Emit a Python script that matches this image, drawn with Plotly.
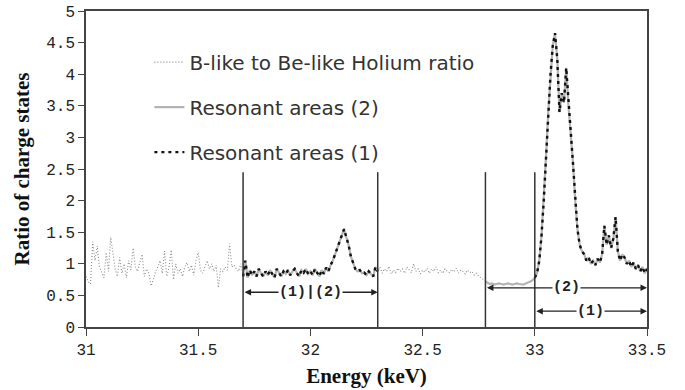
import plotly.graph_objects as go

# ---- data ----
energy_start = 31.00
energy_step = 0.01
ratio = [
    0.80, 0.72, 0.68, 1.35, 1.05, 1.28, 0.95, 0.85, 0.78, 1.18,
    0.88, 1.42, 1.15, 0.92, 0.80, 1.10, 0.85, 1.00, 0.78, 1.05,
    0.90, 1.25, 0.95, 0.88, 1.02, 1.15, 0.80, 0.92, 0.85, 0.65,
    0.75, 0.88, 0.95, 1.05, 0.85, 1.20, 0.80, 0.95, 1.22, 0.75,
    1.00, 0.85, 0.92, 0.80, 0.95, 1.02, 0.88, 0.98, 0.82, 1.05,
    1.18, 0.90, 0.85, 0.96, 1.05, 0.92, 1.00, 0.88, 0.98, 0.62,
    0.92, 0.88, 0.95, 0.90, 1.32, 0.95, 0.98, 0.92, 0.88, 1.00,
    0.80, 1.05, 0.78, 0.90, 0.82, 0.88, 0.80, 0.92, 0.85, 0.80,
    0.88, 0.82, 0.90, 0.85, 0.78, 0.92, 0.86, 0.80, 0.88, 0.84,
    0.90, 0.82, 0.88, 0.92, 0.85, 0.80, 0.90, 0.86, 0.92, 0.84,
    0.88, 0.82, 0.92, 0.86, 0.80, 0.90, 0.84, 0.94, 0.88, 0.98,
    1.05, 1.15, 1.25, 1.38, 1.45, 1.55, 1.42, 1.30, 1.12, 1.00,
    0.92, 0.88, 0.90, 0.85, 0.86, 0.82, 0.88, 0.84, 0.80, 0.95,
    0.88, 0.95, 0.85, 0.92, 0.88, 0.96, 0.84, 0.90, 0.86, 0.93,
    0.88, 0.92, 0.85, 0.95, 0.90, 0.86, 1.00, 0.88, 0.92, 0.84,
    0.90, 0.87, 0.93, 0.85, 0.92, 0.88, 0.95, 0.86, 0.90, 0.85,
    0.92, 0.88, 0.86, 0.91, 0.87, 0.93, 0.85, 0.90, 0.88, 0.84,
    0.90, 0.86, 0.88, 0.82, 0.85, 0.80, 0.78, 0.75, 0.72, 0.70,
    0.68, 0.69, 0.67, 0.68, 0.69, 0.68, 0.67, 0.68, 0.69, 0.68,
    0.67, 0.68, 0.69, 0.68, 0.68, 0.67, 0.69, 0.70, 0.72, 0.74,
    0.78, 0.85, 1.05, 1.45, 2.00, 2.70, 3.40, 4.00, 4.45, 4.65,
    4.25, 3.40, 3.70, 3.55, 4.10, 3.50, 3.10, 2.60, 2.00, 1.55,
    1.30, 1.20, 1.15, 1.05, 1.10, 1.00, 1.05, 0.98, 1.08, 1.02,
    1.15, 1.60, 1.30, 1.45, 1.25, 1.40, 1.74, 1.20, 1.05, 1.15,
    1.10, 1.00, 1.05, 0.95, 1.02, 0.92, 0.98, 0.88, 0.95, 0.85,
    0.92,
]
energy = [round(energy_start + i * energy_step, 2) for i in range(len(ratio))]

areas_1 = [(31.70, 32.30), (33.00, 33.50)]
areas_2 = [(31.70, 32.30), (32.78, 33.50)]
boundaries = [31.70, 32.30, 32.78, 33.00]
boundary_top = 2.45

def in_areas(e, areas):
    return any(a - 1e-9 <= e <= b + 1e-9 for a, b in areas)

res2 = [r if in_areas(e, areas_2) else None for e, r in zip(energy, ratio)]
res1 = [r if in_areas(e, areas_1) else None for e, r in zip(energy, ratio)]

fig = go.Figure()
fig.add_trace(go.Scatter(x=energy, y=ratio, mode="lines",
                         name="B-like to Be-like Holium ratio",
                         legendgroup="a",
                         line=dict(color="#8c8c8c", width=1.1, dash="1px,2px")))
fig.add_trace(go.Scatter(x=energy, y=res2, mode="lines",
                         name="Resonant areas (2)", legendgroup="b",
                         connectgaps=False,
                         line=dict(color="#b4b4b4", width=2.2)))
fig.add_trace(go.Scatter(x=energy, y=res1, mode="lines",
                         name="Resonant areas (1)", legendgroup="c",
                         connectgaps=False,
                         line=dict(color="#111111", width=2.4, dash="3px,4px")))

for b in boundaries:
    fig.add_shape(type="line", x0=b, x1=b, y0=0, y1=boundary_top,
                  line=dict(color="#333333", width=1.5), layer="above")

mono = dict(family="Liberation Mono", size=15, color="#222222")
arrows = [
    (areas_1[0][0], areas_1[0][1], 0.55, "(1)|(2)"),
    (areas_2[1][0], areas_2[1][1], 0.62, "(2)"),
    (areas_1[1][0], areas_1[1][1], 0.25, "(1)"),
]
for x0, x1, yv, label in arrows:
    fig.add_annotation(x=x1, y=yv, ax=x0, ay=yv, axref="x", ayref="y",
                       xref="x", yref="y", text="", showarrow=True,
                       arrowhead=2, arrowside="end+start", arrowsize=1,
                       arrowwidth=1.3, arrowcolor="#222222")
    fig.add_annotation(x=(x0 + x1) / 2, y=yv, text="<b>" + label + "</b>",
                       showarrow=False, bgcolor="white", font=mono,
                       borderpad=0)

fig.update_layout(
    width=685, height=390,
    margin=dict(l=86, r=38, t=11, b=63),
    paper_bgcolor="white", plot_bgcolor="white",
    showlegend=True,
    legend=dict(x=0.113, y=0.90, xanchor="left", yanchor="top",
                bgcolor="rgba(0,0,0,0)", tracegroupgap=16,
                itemwidth=30,
                font=dict(family="DejaVu Sans", size=20, color="#333333")),
    xaxis=dict(range=[31, 33.5], tickvals=[31, 31.5, 32, 32.5, 33, 33.5],
               ticktext=["31", "31.5", "32", "32.5", "33", "33.5"],
               showgrid=False, zeroline=False, showline=True, mirror=True,
               linecolor="#444444", linewidth=1.5, ticks="outside",
               ticklen=7, tickcolor="#444444", automargin=False,
               tickfont=dict(family="Liberation Mono", size=16, color="#222222"),
               title=dict(text="<b>Energy (keV)</b>", standoff=9,
                          font=dict(family="Liberation Serif", size=21, color="#111111"))),
    yaxis=dict(range=[0, 5], tickvals=[0, 0.5, 1, 1.5, 2, 2.5, 3, 3.5, 4, 4.5, 5],
               ticktext=["0", "0.5", "1", "1.5", "2", "2.5", "3", "3.5", "4", "4.5", "5"],
               showgrid=False, zeroline=False, showline=True, mirror=True,
               linecolor="#444444", linewidth=1.5, ticks="outside",
               ticklen=6, tickcolor="#444444", automargin=False,
               tickfont=dict(family="Liberation Mono", size=16, color="#222222"),
               title=dict(text="<b>Ratio of charge states</b>", standoff=11,
                          font=dict(family="Liberation Serif", size=21, color="#111111"))),
)

fig.write_html("out.html")
